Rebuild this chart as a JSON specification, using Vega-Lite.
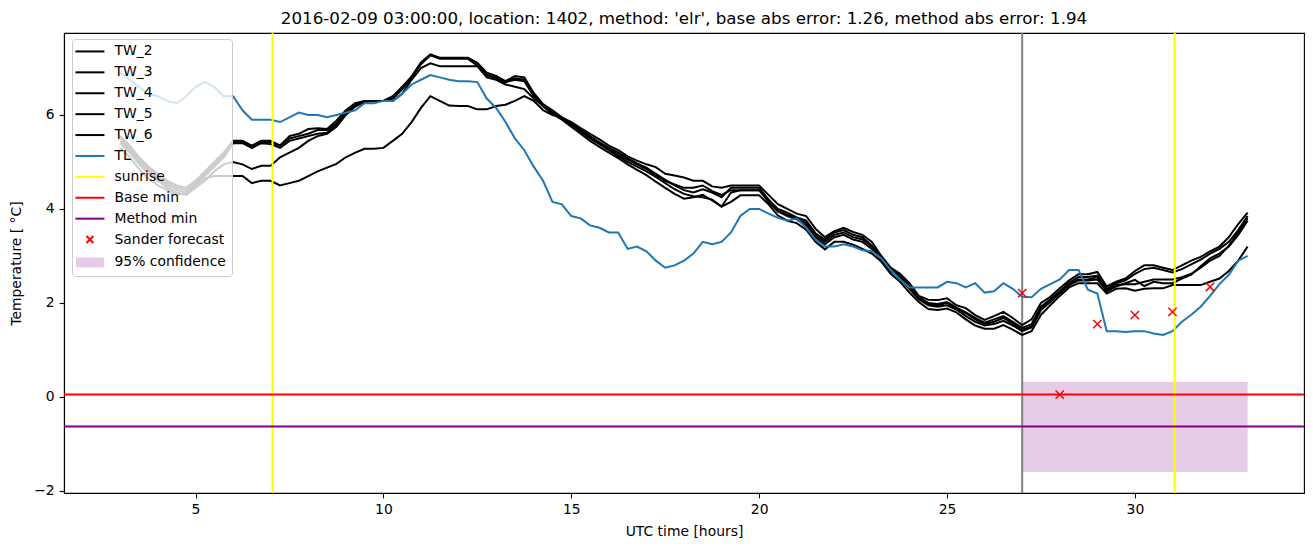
{
  "$schema": "https://vega.github.io/schema/vega-lite/v6.json",
  "width": 1240,
  "height": 460,
  "autosize": {"type": "none"},
  "padding": {"left": 64, "top": 33, "right": 9, "bottom": 54},
  "background": "white",
  "title": {"text": "2016-02-09 03:00:00, location: 1402, method: 'elr', base abs error: 1.26, method abs error: 1.94", "fontSize": 16.7, "fontWeight": "normal", "font": "DejaVu Sans", "color": "black", "anchor": "middle", "frame": "group", "offset": 5, "baseline": "bottom", "dy": 18},
  "config": {
    "font": "DejaVu Sans",
    "view": {"stroke": "black", "strokeWidth": 1.1},
    "axis": {"domainColor": "black", "domainWidth": 1.1, "tickColor": "black", "tickSize": 4.9, "tickWidth": 1.1, "labelFontSize": 13.9, "labelColor": "black", "labelFont": "DejaVu Sans", "titleFont": "DejaVu Sans", "titleFontSize": 13.9, "titleFontWeight": "normal", "titleColor": "black", "grid": false, "labelPadding": 4.9},
    "axisX": {"titlePadding": 8},
    "axisY": {"titlePadding": 10},
    "legend": {"labelFontSize": 13.9, "labelFont": "DejaVu Sans", "labelColor": "black", "symbolSize": 100, "symbolStrokeWidth": 2, "symbolOpacity": 1, "rowPadding": 5.9, "padding": 5.5, "fillColor": "rgba(255,255,255,0.8)", "strokeColor": "#cccccc", "cornerRadius": 3, "symbolOffset": 5.5, "labelOffset": 17.6, "labelLimit": 0}
  },
  "datasets": {
    "forecast": [
      {"t": 27, "v": 2.21, "series": "Sander forecast"},
      {"t": 28, "v": 0.05, "series": "Sander forecast"},
      {"t": 29, "v": 1.55, "series": "Sander forecast"},
      {"t": 30, "v": 1.74, "series": "Sander forecast"},
      {"t": 31, "v": 1.81, "series": "Sander forecast"},
      {"t": 32, "v": 2.34, "series": "Sander forecast"}
    ],
    "lines": [
      {"t":3,"TW_2":5.55,"TW_3":5.5,"TW_4":5.45,"TW_5":5.4,"TW_6":5.3,"TL":6.9},
      {"t":3.25,"TW_2":5.35,"TW_3":5.3,"TW_4":5.25,"TW_5":5.2,"TW_6":5.1,"TL":6.75},
      {"t":3.5,"TW_2":5.1,"TW_3":5.05,"TW_4":5.0,"TW_5":4.95,"TW_6":4.85,"TL":6.6},
      {"t":3.75,"TW_2":4.9,"TW_3":4.85,"TW_4":4.8,"TW_5":4.75,"TW_6":4.65,"TL":6.45},
      {"t":4,"TW_2":4.75,"TW_3":4.7,"TW_4":4.65,"TW_5":4.6,"TW_6":4.5,"TL":6.4},
      {"t":4.25,"TW_2":4.6,"TW_3":4.55,"TW_4":4.5,"TW_5":4.45,"TW_6":4.4,"TL":6.3},
      {"t":4.5,"TW_2":4.5,"TW_3":4.45,"TW_4":4.4,"TW_5":4.35,"TW_6":4.3,"TL":6.25},
      {"t":4.75,"TW_2":4.45,"TW_3":4.4,"TW_4":4.35,"TW_5":4.3,"TW_6":4.35,"TL":6.4},
      {"t":5,"TW_2":4.6,"TW_3":4.55,"TW_4":4.5,"TW_5":4.45,"TW_6":4.5,"TL":6.6},
      {"t":5.25,"TW_2":4.8,"TW_3":4.75,"TW_4":4.7,"TW_5":4.6,"TW_6":4.65,"TL":6.7},
      {"t":5.5,"TW_2":5.0,"TW_3":4.95,"TW_4":4.9,"TW_5":4.8,"TW_6":4.7,"TL":6.6},
      {"t":5.75,"TW_2":5.2,"TW_3":5.15,"TW_4":5.1,"TW_5":4.95,"TW_6":4.7,"TL":6.4},
      {"t":6,"TW_2":5.45,"TW_3":5.42,"TW_4":5.4,"TW_5":5.0,"TW_6":4.7,"TL":6.4},
      {"t":6.25,"TW_2":5.45,"TW_3":5.42,"TW_4":5.4,"TW_5":4.95,"TW_6":4.7,"TL":6.1},
      {"t":6.5,"TW_2":5.35,"TW_3":5.3,"TW_4":5.3,"TW_5":4.85,"TW_6":4.55,"TL":5.9},
      {"t":6.75,"TW_2":5.45,"TW_3":5.42,"TW_4":5.4,"TW_5":4.92,"TW_6":4.6,"TL":5.9},
      {"t":7,"TW_2":5.45,"TW_3":5.42,"TW_4":5.38,"TW_5":4.92,"TW_6":4.6,"TL":5.9},
      {"t":7.25,"TW_2":5.35,"TW_3":5.35,"TW_4":5.3,"TW_5":5.1,"TW_6":4.5,"TL":5.85},
      {"t":7.5,"TW_2":5.55,"TW_3":5.5,"TW_4":5.45,"TW_5":5.2,"TW_6":4.55,"TL":5.95},
      {"t":7.75,"TW_2":5.6,"TW_3":5.55,"TW_4":5.5,"TW_5":5.3,"TW_6":4.6,"TL":6.05},
      {"t":8,"TW_2":5.7,"TW_3":5.6,"TW_4":5.55,"TW_5":5.45,"TW_6":4.7,"TL":6.0},
      {"t":8.25,"TW_2":5.72,"TW_3":5.68,"TW_4":5.6,"TW_5":5.55,"TW_6":4.8,"TL":6.0},
      {"t":8.5,"TW_2":5.7,"TW_3":5.68,"TW_4":5.62,"TW_5":5.6,"TW_6":4.88,"TL":5.95},
      {"t":8.75,"TW_2":5.88,"TW_3":5.82,"TW_4":5.8,"TW_5":5.75,"TW_6":4.96,"TL":6.0},
      {"t":9,"TW_2":6.1,"TW_3":6.05,"TW_4":6.05,"TW_5":6.0,"TW_6":5.1,"TL":6.05},
      {"t":9.25,"TW_2":6.25,"TW_3":6.2,"TW_4":6.2,"TW_5":6.18,"TW_6":5.2,"TL":6.1},
      {"t":9.5,"TW_2":6.3,"TW_3":6.3,"TW_4":6.28,"TW_5":6.28,"TW_6":5.28,"TL":6.25},
      {"t":9.75,"TW_2":6.3,"TW_3":6.3,"TW_4":6.3,"TW_5":6.3,"TW_6":5.28,"TL":6.25},
      {"t":10,"TW_2":6.3,"TW_3":6.3,"TW_4":6.3,"TW_5":6.3,"TW_6":5.3,"TL":6.3},
      {"t":10.25,"TW_2":6.4,"TW_3":6.35,"TW_4":6.3,"TW_5":6.35,"TW_6":5.45,"TL":6.3},
      {"t":10.5,"TW_2":6.6,"TW_3":6.55,"TW_4":6.45,"TW_5":6.55,"TW_6":5.6,"TL":6.45},
      {"t":10.75,"TW_2":6.82,"TW_3":6.8,"TW_4":6.75,"TW_5":6.8,"TW_6":5.85,"TL":6.65},
      {"t":11,"TW_2":7.12,"TW_3":7.08,"TW_4":7.0,"TW_5":7.1,"TW_6":6.15,"TL":6.75},
      {"t":11.25,"TW_2":7.29,"TW_3":7.27,"TW_4":7.1,"TW_5":7.28,"TW_6":6.4,"TL":6.85},
      {"t":11.5,"TW_2":7.22,"TW_3":7.2,"TW_4":7.04,"TW_5":7.2,"TW_6":6.3,"TL":6.8},
      {"t":11.75,"TW_2":7.22,"TW_3":7.2,"TW_4":7.04,"TW_5":7.2,"TW_6":6.2,"TL":6.75},
      {"t":12,"TW_2":7.22,"TW_3":7.2,"TW_4":7.04,"TW_5":7.2,"TW_6":6.19,"TL":6.72},
      {"t":12.25,"TW_2":7.22,"TW_3":7.2,"TW_4":7.04,"TW_5":7.2,"TW_6":6.19,"TL":6.72},
      {"t":12.5,"TW_2":7.11,"TW_3":7.08,"TW_4":7.04,"TW_5":7.05,"TW_6":6.12,"TL":6.7},
      {"t":12.75,"TW_2":6.9,"TW_3":6.85,"TW_4":6.8,"TW_5":6.85,"TW_6":6.12,"TL":6.35},
      {"t":13,"TW_2":6.83,"TW_3":6.8,"TW_4":6.75,"TW_5":6.78,"TW_6":6.19,"TL":6.15},
      {"t":13.25,"TW_2":6.72,"TW_3":6.7,"TW_4":6.65,"TW_5":6.7,"TW_6":6.22,"TL":5.85},
      {"t":13.5,"TW_2":6.83,"TW_3":6.78,"TW_4":6.6,"TW_5":6.75,"TW_6":6.3,"TL":5.5},
      {"t":13.75,"TW_2":6.8,"TW_3":6.75,"TW_4":6.55,"TW_5":6.72,"TW_6":6.4,"TL":5.25},
      {"t":14,"TW_2":6.47,"TW_3":6.43,"TW_4":6.35,"TW_5":6.4,"TW_6":6.3,"TL":4.9},
      {"t":14.25,"TW_2":6.23,"TW_3":6.2,"TW_4":6.2,"TW_5":6.18,"TW_6":6.1,"TL":4.6},
      {"t":14.5,"TW_2":6.1,"TW_3":6.07,"TW_4":6.05,"TW_5":6.02,"TW_6":6.0,"TL":4.15},
      {"t":14.75,"TW_2":5.95,"TW_3":5.93,"TW_4":5.93,"TW_5":5.9,"TW_6":5.95,"TL":4.1},
      {"t":15,"TW_2":5.85,"TW_3":5.82,"TW_4":5.8,"TW_5":5.75,"TW_6":5.78,"TL":3.85},
      {"t":15.25,"TW_2":5.72,"TW_3":5.68,"TW_4":5.65,"TW_5":5.6,"TW_6":5.65,"TL":3.8},
      {"t":15.5,"TW_2":5.6,"TW_3":5.55,"TW_4":5.5,"TW_5":5.45,"TW_6":5.52,"TL":3.65},
      {"t":15.75,"TW_2":5.48,"TW_3":5.42,"TW_4":5.38,"TW_5":5.32,"TW_6":5.4,"TL":3.6},
      {"t":16,"TW_2":5.35,"TW_3":5.3,"TW_4":5.25,"TW_5":5.2,"TW_6":5.28,"TL":3.5},
      {"t":16.25,"TW_2":5.25,"TW_3":5.2,"TW_4":5.12,"TW_5":5.08,"TW_6":5.15,"TL":3.5},
      {"t":16.5,"TW_2":5.12,"TW_3":5.08,"TW_4":5.0,"TW_5":4.95,"TW_6":5.05,"TL":3.15},
      {"t":16.75,"TW_2":5.03,"TW_3":4.97,"TW_4":4.9,"TW_5":4.83,"TW_6":4.95,"TL":3.2},
      {"t":17,"TW_2":4.95,"TW_3":4.88,"TW_4":4.8,"TW_5":4.72,"TW_6":4.85,"TL":3.1},
      {"t":17.25,"TW_2":4.89,"TW_3":4.75,"TW_4":4.68,"TW_5":4.58,"TW_6":4.72,"TL":2.9},
      {"t":17.5,"TW_2":4.75,"TW_3":4.62,"TW_4":4.55,"TW_5":4.45,"TW_6":4.6,"TL":2.75},
      {"t":17.75,"TW_2":4.71,"TW_3":4.5,"TW_4":4.42,"TW_5":4.32,"TW_6":4.52,"TL":2.8},
      {"t":18,"TW_2":4.67,"TW_3":4.4,"TW_4":4.32,"TW_5":4.22,"TW_6":4.45,"TL":2.9},
      {"t":18.25,"TW_2":4.6,"TW_3":4.35,"TW_4":4.27,"TW_5":4.25,"TW_6":4.45,"TL":3.05},
      {"t":18.5,"TW_2":4.6,"TW_3":4.42,"TW_4":4.25,"TW_5":4.3,"TW_6":4.5,"TL":3.3},
      {"t":18.75,"TW_2":4.48,"TW_3":4.35,"TW_4":4.2,"TW_5":4.18,"TW_6":4.38,"TL":3.25},
      {"t":19,"TW_2":4.45,"TW_3":4.25,"TW_4":4.05,"TW_5":4.05,"TW_6":4.3,"TL":3.3},
      {"t":19.25,"TW_2":4.5,"TW_3":4.45,"TW_4":4.35,"TW_5":4.15,"TW_6":4.4,"TL":3.5},
      {"t":19.5,"TW_2":4.5,"TW_3":4.45,"TW_4":4.4,"TW_5":4.29,"TW_6":4.4,"TL":3.85},
      {"t":19.75,"TW_2":4.5,"TW_3":4.45,"TW_4":4.4,"TW_5":4.29,"TW_6":4.4,"TL":4.0},
      {"t":20,"TW_2":4.5,"TW_3":4.45,"TW_4":4.4,"TW_5":4.29,"TW_6":4.4,"TL":4.0},
      {"t":20.25,"TW_2":4.3,"TW_3":4.2,"TW_4":4.15,"TW_5":4.1,"TW_6":4.2,"TL":3.9},
      {"t":20.5,"TW_2":4.1,"TW_3":4.0,"TW_4":3.95,"TW_5":3.86,"TW_6":3.95,"TL":3.81},
      {"t":20.75,"TW_2":4.0,"TW_3":3.92,"TW_4":3.85,"TW_5":3.75,"TW_6":3.88,"TL":3.75},
      {"t":21,"TW_2":3.9,"TW_3":3.82,"TW_4":3.78,"TW_5":3.7,"TW_6":3.8,"TL":3.8},
      {"t":21.25,"TW_2":3.85,"TW_3":3.75,"TW_4":3.65,"TW_5":3.56,"TW_6":3.7,"TL":3.6},
      {"t":21.5,"TW_2":3.58,"TW_3":3.48,"TW_4":3.4,"TW_5":3.3,"TW_6":3.45,"TL":3.35},
      {"t":21.75,"TW_2":3.4,"TW_3":3.35,"TW_4":3.25,"TW_5":3.14,"TW_6":3.3,"TL":3.2},
      {"t":22,"TW_2":3.53,"TW_3":3.5,"TW_4":3.4,"TW_5":3.3,"TW_6":3.45,"TL":3.2},
      {"t":22.25,"TW_2":3.6,"TW_3":3.55,"TW_4":3.45,"TW_5":3.3,"TW_6":3.5,"TL":3.25},
      {"t":22.5,"TW_2":3.51,"TW_3":3.45,"TW_4":3.35,"TW_5":3.24,"TW_6":3.4,"TL":3.2},
      {"t":22.75,"TW_2":3.45,"TW_3":3.4,"TW_4":3.3,"TW_5":3.15,"TW_6":3.35,"TL":3.12},
      {"t":23,"TW_2":3.3,"TW_3":3.22,"TW_4":3.15,"TW_5":3.05,"TW_6":3.2,"TL":3.1},
      {"t":23.25,"TW_2":3.0,"TW_3":2.97,"TW_4":2.93,"TW_5":2.88,"TW_6":2.95,"TL":2.95},
      {"t":23.5,"TW_2":2.75,"TW_3":2.72,"TW_4":2.68,"TW_5":2.62,"TW_6":2.7,"TL":2.7},
      {"t":23.75,"TW_2":2.62,"TW_3":2.58,"TW_4":2.52,"TW_5":2.45,"TW_6":2.55,"TL":2.5},
      {"t":24,"TW_2":2.42,"TW_3":2.36,"TW_4":2.3,"TW_5":2.22,"TW_6":2.33,"TL":2.33},
      {"t":24.25,"TW_2":2.15,"TW_3":2.12,"TW_4":2.08,"TW_5":2.02,"TW_6":2.1,"TL":2.33},
      {"t":24.5,"TW_2":2.07,"TW_3":2.0,"TW_4":1.95,"TW_5":1.87,"TW_6":1.98,"TL":2.33},
      {"t":24.75,"TW_2":2.06,"TW_3":1.98,"TW_4":1.92,"TW_5":1.85,"TW_6":1.95,"TL":2.33},
      {"t":25,"TW_2":2.1,"TW_3":2.02,"TW_4":1.95,"TW_5":1.88,"TW_6":2.0,"TL":2.45},
      {"t":25.25,"TW_2":1.95,"TW_3":1.9,"TW_4":1.86,"TW_5":1.8,"TW_6":1.88,"TL":2.42},
      {"t":25.5,"TW_2":1.89,"TW_3":1.8,"TW_4":1.72,"TW_5":1.65,"TW_6":1.78,"TL":2.33},
      {"t":25.75,"TW_2":1.74,"TW_3":1.68,"TW_4":1.6,"TW_5":1.52,"TW_6":1.65,"TL":2.42},
      {"t":26,"TW_2":1.64,"TW_3":1.58,"TW_4":1.52,"TW_5":1.45,"TW_6":1.55,"TL":2.22},
      {"t":26.25,"TW_2":1.72,"TW_3":1.65,"TW_4":1.55,"TW_5":1.45,"TW_6":1.6,"TL":2.25},
      {"t":26.5,"TW_2":1.81,"TW_3":1.72,"TW_4":1.62,"TW_5":1.53,"TW_6":1.68,"TL":2.42},
      {"t":26.75,"TW_2":1.68,"TW_3":1.6,"TW_4":1.52,"TW_5":1.43,"TW_6":1.56,"TL":2.3},
      {"t":27,"TW_2":1.53,"TW_3":1.47,"TW_4":1.4,"TW_5":1.32,"TW_6":1.43,"TL":2.13},
      {"t":27.25,"TW_2":1.65,"TW_3":1.55,"TW_4":1.48,"TW_5":1.4,"TW_6":1.5,"TL":2.12},
      {"t":27.5,"TW_2":2.0,"TW_3":1.92,"TW_4":1.85,"TW_5":1.75,"TW_6":1.88,"TL":2.3},
      {"t":27.75,"TW_2":2.13,"TW_3":2.08,"TW_4":2.02,"TW_5":1.95,"TW_6":2.05,"TL":2.4},
      {"t":28,"TW_2":2.31,"TW_3":2.25,"TW_4":2.2,"TW_5":2.15,"TW_6":2.22,"TL":2.5},
      {"t":28.25,"TW_2":2.48,"TW_3":2.43,"TW_4":2.38,"TW_5":2.33,"TW_6":2.4,"TL":2.7},
      {"t":28.5,"TW_2":2.61,"TW_3":2.55,"TW_4":2.48,"TW_5":2.42,"TW_6":2.5,"TL":2.7},
      {"t":28.75,"TW_2":2.61,"TW_3":2.55,"TW_4":2.48,"TW_5":2.42,"TW_6":2.5,"TL":2.28},
      {"t":29,"TW_2":2.66,"TW_3":2.58,"TW_4":2.5,"TW_5":2.42,"TW_6":2.55,"TL":2.2},
      {"t":29.25,"TW_2":2.35,"TW_3":2.3,"TW_4":2.25,"TW_5":2.2,"TW_6":2.28,"TL":1.4},
      {"t":29.5,"TW_2":2.45,"TW_3":2.42,"TW_4":2.35,"TW_5":2.3,"TW_6":2.38,"TL":1.4},
      {"t":29.75,"TW_2":2.52,"TW_3":2.48,"TW_4":2.42,"TW_5":2.31,"TW_6":2.4,"TL":1.38},
      {"t":30,"TW_2":2.68,"TW_3":2.62,"TW_4":2.49,"TW_5":2.26,"TW_6":2.4,"TL":1.4},
      {"t":30.25,"TW_2":2.8,"TW_3":2.72,"TW_4":2.36,"TW_5":2.3,"TW_6":2.45,"TL":1.4},
      {"t":30.5,"TW_2":2.8,"TW_3":2.75,"TW_4":2.45,"TW_5":2.31,"TW_6":2.5,"TL":1.35},
      {"t":30.75,"TW_2":2.75,"TW_3":2.7,"TW_4":2.42,"TW_5":2.31,"TW_6":2.5,"TL":1.32},
      {"t":31,"TW_2":2.7,"TW_3":2.65,"TW_4":2.42,"TW_5":2.38,"TW_6":2.5,"TL":1.4},
      {"t":31.25,"TW_2":2.8,"TW_3":2.72,"TW_4":2.52,"TW_5":2.38,"TW_6":2.55,"TL":1.6},
      {"t":31.5,"TW_2":2.9,"TW_3":2.82,"TW_4":2.6,"TW_5":2.38,"TW_6":2.62,"TL":1.75},
      {"t":31.75,"TW_2":2.98,"TW_3":2.92,"TW_4":2.78,"TW_5":2.38,"TW_6":2.75,"TL":1.92},
      {"t":32,"TW_2":3.1,"TW_3":3.05,"TW_4":2.95,"TW_5":2.45,"TW_6":2.9,"TL":2.15},
      {"t":32.25,"TW_2":3.2,"TW_3":3.15,"TW_4":3.05,"TW_5":2.52,"TW_6":3.0,"TL":2.4},
      {"t":32.5,"TW_2":3.4,"TW_3":3.3,"TW_4":3.2,"TW_5":2.68,"TW_6":3.22,"TL":2.6},
      {"t":32.75,"TW_2":3.68,"TW_3":3.55,"TW_4":3.45,"TW_5":2.9,"TW_6":3.5,"TL":2.9},
      {"t":33,"TW_2":3.92,"TW_3":3.85,"TW_4":3.75,"TW_5":3.2,"TW_6":3.8,"TL":3.0}
    ]
  },
  "layer": [
    {
      "data": {"name": "forecast"},
      "mark": {"type": "point", "size": 141, "filled": false, "strokeWidth": 2, "opacity": 0},
      "encoding": {
        "x": {"field": "t", "type": "quantitative", "scale": {"domain": [1.5, 34.5], "nice": false, "zero": false}, "axis": {"values": [5, 10, 15, 20, 25, 30]}, "title": "UTC time [hours]"},
        "y": {"field": "v", "type": "quantitative", "scale": {"domain": [-2.045, 7.745], "nice": false, "zero": false}, "axis": {"values": [-2, 0, 2, 4, 6]}, "title": "Temperature [ °C]"},
        "color": {"field": "series", "type": "nominal", "scale": {"domain": ["TW_2", "TW_3", "TW_4", "TW_5", "TW_6", "TL", "sunrise", "Base min", "Method min", "Sander forecast", "95% confidence"], "range": ["black", "black", "black", "black", "black", "#1f77b4", "yellow", "red", "purple", "red", "#e6cce6"]}, "legend": {"title": null, "orient": "none", "legendX": 8, "legendY": 6, "symbolOpacity": 1, "symbolStrokeWidth": 2}},
        "shape": {"field": "series", "type": "nominal", "scale": {"domain": ["TW_2", "TW_3", "TW_4", "TW_5", "TW_6", "TL", "sunrise", "Base min", "Method min", "Sander forecast", "95% confidence"], "range": ["M-2.9,0H2.9", "M-2.9,0H2.9", "M-2.9,0H2.9", "M-2.9,0H2.9", "M-2.9,0H2.9", "M-2.9,0H2.9", "M-2.9,0H2.9", "M-2.9,0H2.9", "M-2.9,0H2.9", "M-0.7,-0.7L0.7,0.7M-0.7,0.7L0.7,-0.7", "M-2.8,-0.8H2.8M-2.8,-0.4H2.8M-2.8,0H2.8M-2.8,0.4H2.8M-2.8,0.8H2.8"]}, "legend": {"title": null, "orient": "none", "legendX": 8, "legendY": 6, "symbolOpacity": 1, "symbolStrokeWidth": 2}}
      }
    },
    {
      "data": {"values": [{"t": 27, "t2": 33, "v": -1.6, "v2": 0.32, "series": "95% confidence"}]},
      "mark": {"type": "rect", "opacity": 1},
      "encoding": {
        "x": {"field": "t", "type": "quantitative", "scale": {"domain": [1.5, 34.5], "nice": false, "zero": false}, "axis": {"values": [5, 10, 15, 20, 25, 30]}, "title": "UTC time [hours]"},
        "x2": {"field": "t2"},
        "y": {"field": "v", "type": "quantitative", "scale": {"domain": [-2.045, 7.745], "nice": false, "zero": false}, "axis": {"values": [-2, 0, 2, 4, 6]}, "title": "Temperature [ °C]"},
        "y2": {"field": "v2"},
        "color": {"field": "series", "type": "nominal", "scale": {"domain": ["TW_2", "TW_3", "TW_4", "TW_5", "TW_6", "TL", "sunrise", "Base min", "Method min", "Sander forecast", "95% confidence"], "range": ["black", "black", "black", "black", "black", "#1f77b4", "yellow", "red", "purple", "red", "#e6cce6"]}, "legend": null}
      }
    },
    {
      "data": {"values": [{"t": 27}]},
      "mark": {"type": "rule", "color": "gray", "strokeWidth": 2},
      "encoding": {
        "x": {"field": "t", "type": "quantitative", "scale": {"domain": [1.5, 34.5], "nice": false, "zero": false}, "axis": {"values": [5, 10, 15, 20, 25, 30]}, "title": "UTC time [hours]"}
      }
    },
    {
      "data": {"name": "lines"},
      "transform": [{"fold": ["TW_2", "TW_3", "TW_4", "TW_5", "TW_6"], "as": ["series", "v"]}],
      "mark": {"type": "line", "strokeWidth": 2},
      "encoding": {
        "x": {"field": "t", "type": "quantitative", "scale": {"domain": [1.5, 34.5], "nice": false, "zero": false}, "axis": {"values": [5, 10, 15, 20, 25, 30]}, "title": "UTC time [hours]"},
        "y": {"field": "v", "type": "quantitative", "scale": {"domain": [-2.045, 7.745], "nice": false, "zero": false}, "axis": {"values": [-2, 0, 2, 4, 6]}, "title": "Temperature [ °C]"},
        "color": {"field": "series", "type": "nominal", "scale": {"domain": ["TW_2", "TW_3", "TW_4", "TW_5", "TW_6", "TL", "sunrise", "Base min", "Method min", "Sander forecast", "95% confidence"], "range": ["black", "black", "black", "black", "black", "#1f77b4", "yellow", "red", "purple", "red", "#e6cce6"]}, "legend": null}
      }
    },
    {
      "data": {"name": "lines"},
      "transform": [{"fold": ["TL"], "as": ["series", "v"]}],
      "mark": {"type": "line", "strokeWidth": 2},
      "encoding": {
        "x": {"field": "t", "type": "quantitative", "scale": {"domain": [1.5, 34.5], "nice": false, "zero": false}, "axis": {"values": [5, 10, 15, 20, 25, 30]}, "title": "UTC time [hours]"},
        "y": {"field": "v", "type": "quantitative", "scale": {"domain": [-2.045, 7.745], "nice": false, "zero": false}, "axis": {"values": [-2, 0, 2, 4, 6]}, "title": "Temperature [ °C]"},
        "color": {"field": "series", "type": "nominal", "scale": {"domain": ["TW_2", "TW_3", "TW_4", "TW_5", "TW_6", "TL", "sunrise", "Base min", "Method min", "Sander forecast", "95% confidence"], "range": ["black", "black", "black", "black", "black", "#1f77b4", "yellow", "red", "purple", "red", "#e6cce6"]}, "legend": null}
      }
    },
    {
      "data": {"values": [{"t": 7.05, "series": "sunrise"}, {"t": 31.06, "series": "sunrise"}]},
      "mark": {"type": "rule", "strokeWidth": 2},
      "encoding": {
        "x": {"field": "t", "type": "quantitative", "scale": {"domain": [1.5, 34.5], "nice": false, "zero": false}, "axis": {"values": [5, 10, 15, 20, 25, 30]}, "title": "UTC time [hours]"},
        "color": {"field": "series", "type": "nominal", "scale": {"domain": ["TW_2", "TW_3", "TW_4", "TW_5", "TW_6", "TL", "sunrise", "Base min", "Method min", "Sander forecast", "95% confidence"], "range": ["black", "black", "black", "black", "black", "#1f77b4", "yellow", "red", "purple", "red", "#e6cce6"]}, "legend": null}
      }
    },
    {
      "data": {"values": [{"v": 0.05, "series": "Base min"}, {"v": -0.63, "series": "Method min"}]},
      "mark": {"type": "rule", "strokeWidth": 2},
      "encoding": {
        "y": {"field": "v", "type": "quantitative", "scale": {"domain": [-2.045, 7.745], "nice": false, "zero": false}, "axis": {"values": [-2, 0, 2, 4, 6]}, "title": "Temperature [ °C]"},
        "color": {"field": "series", "type": "nominal", "scale": {"domain": ["TW_2", "TW_3", "TW_4", "TW_5", "TW_6", "TL", "sunrise", "Base min", "Method min", "Sander forecast", "95% confidence"], "range": ["black", "black", "black", "black", "black", "#1f77b4", "yellow", "red", "purple", "red", "#e6cce6"]}, "legend": null}
      }
    },
    {
      "data": {"name": "forecast"},
      "mark": {"type": "point", "size": 141, "filled": false, "strokeWidth": 1.5, "opacity": 1},
      "encoding": {
        "x": {"field": "t", "type": "quantitative", "scale": {"domain": [1.5, 34.5], "nice": false, "zero": false}, "axis": {"values": [5, 10, 15, 20, 25, 30]}, "title": "UTC time [hours]"},
        "y": {"field": "v", "type": "quantitative", "scale": {"domain": [-2.045, 7.745], "nice": false, "zero": false}, "axis": {"values": [-2, 0, 2, 4, 6]}, "title": "Temperature [ °C]"},
        "color": {"field": "series", "type": "nominal", "scale": {"domain": ["TW_2", "TW_3", "TW_4", "TW_5", "TW_6", "TL", "sunrise", "Base min", "Method min", "Sander forecast", "95% confidence"], "range": ["black", "black", "black", "black", "black", "#1f77b4", "yellow", "red", "purple", "red", "#e6cce6"]}, "legend": null},
        "shape": {"field": "series", "type": "nominal", "scale": {"domain": ["TW_2", "TW_3", "TW_4", "TW_5", "TW_6", "TL", "sunrise", "Base min", "Method min", "Sander forecast", "95% confidence"], "range": ["M-2.9,0H2.9", "M-2.9,0H2.9", "M-2.9,0H2.9", "M-2.9,0H2.9", "M-2.9,0H2.9", "M-2.9,0H2.9", "M-2.9,0H2.9", "M-2.9,0H2.9", "M-2.9,0H2.9", "M-0.7,-0.7L0.7,0.7M-0.7,0.7L0.7,-0.7", "M-2.8,-0.8H2.8M-2.8,-0.4H2.8M-2.8,0H2.8M-2.8,0.4H2.8M-2.8,0.8H2.8"]}, "legend": null}
      }
    }
  ]
}
